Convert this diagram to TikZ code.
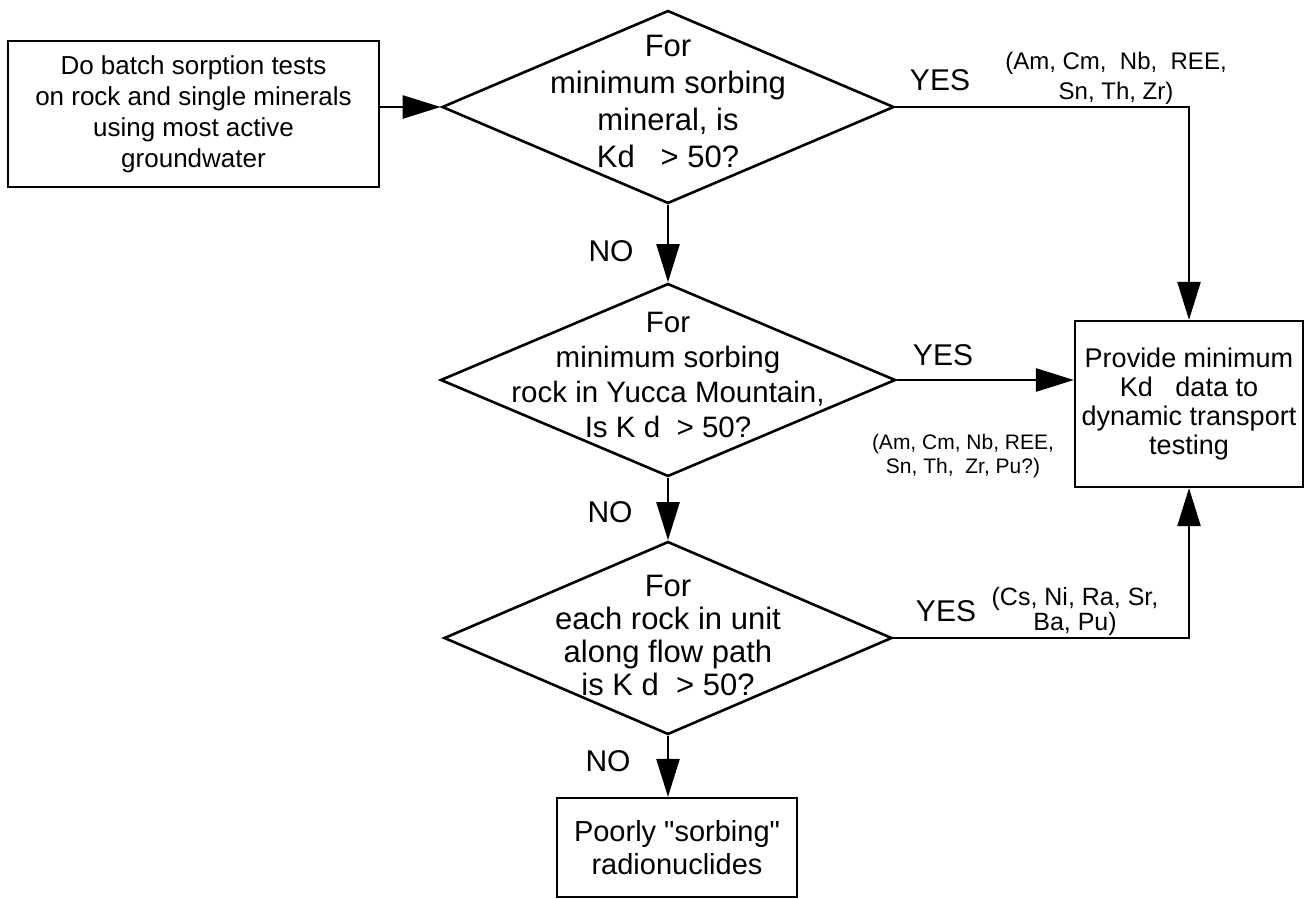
\documentclass[tikz,border=0pt]{standalone}
\usepackage{fontspec}
\setmainfont{Liberation Sans}[Ligatures=TeXOff]
\usepackage{tikz}
\usetikzlibrary{positioning,arrows.meta,shapes.geometric}

\begin{document}
\begin{tikzpicture}[
    x=1pt, y=1pt,
    box/.style={draw, line width=2.2pt, inner sep=0pt, align=center},
    decision/.style={draw, diamond, line width=2.6pt, inner sep=0pt, minimum width=#1, minimum height=193pt},
    qtext/.style={align=center, font=\fontsize{31}{#1}\selectfont},
    lbl/.style={font=\fontsize{30}{36}\selectfont},
    elems/.style={align=center, inner sep=0pt},
    arrow/.style={-{Triangle[length=38pt,width=23pt]}, line width=2.4pt},
  ]
  \useasboundingbox (0,0) rectangle (1306,-899);

  % Boxes
  \node[box, minimum width=371pt, minimum height=146pt, font=\fontsize{26}{31}\selectfont] (batch) at (193.5,-114)
    {Do batch sorption tests\\on rock and single minerals\\using most active\\groundwater};
  \node[box, minimum width=228pt, minimum height=166pt, font=\fontsize{27}{29}\selectfont] (prov) at (1189,-404)
    {Provide minimum\\Kd\ \ \ data to\\dynamic transport\\testing};
  \node[box, minimum width=240pt, minimum height=99pt, font=\fontsize{29}{33}\selectfont] (poor) at (677,-847.5)
    {Poorly "sorbing"\\radionuclides};

  % Decisions
  \node[decision=452pt] (d1) at (668,-107) {};
  \node[decision=455pt] (d2) at (668,-380) {};
  \node[decision=448pt] (d3) at (668,-638) {};
  \node[qtext=37] (d1txt) at ([yshift=6]d1.center) {For\\minimum sorbing\\mineral, is\\Kd\ \ \ > 50?};
  \node[qtext=35, font=\fontsize{29.5}{35}\selectfont] (d2txt) at ([yshift=5]d2.center) {For\\minimum sorbing\\rock in Yucca Mountain,\\Is K d\ \ > 50?};
  \node[qtext=33] (d3txt) at ([yshift=3]d3.center) {For\\each rock in unit\\along flow path\\is K d\ \ > 50?};

  % Arrows
  \draw[arrow] (batch.east |- d1.west) -- (d1.west);
  \draw[arrow] (d1.south) -- (d2.north);
  \draw[arrow] (d2.south) -- (d3.north);
  \draw[arrow] (d3.south) -- (d3.south |- poor.north);
  \draw[arrow] (d1.east) -| (prov.north);
  \draw[arrow] (d2.east) -- (d2.east -| prov.west);
  \draw[arrow] (d3.east) -| (prov.south);

  % Labels
  \node[lbl] (yes1) at (940,-80) {YES};
  \node[lbl] (yes2) at (943,-355) {YES};
  \node[lbl] (yes3) at (946,-611) {YES};
  \node[lbl] (no1) at (611,-251) {NO};
  \node[lbl] (no2) at (610,-512) {NO};
  \node[lbl] (no3) at (608,-761) {NO};
  \node[elems, font=\fontsize{24}{30}\selectfont] (el1) at (1116,-78) {(Am, Cm,\ \ Nb,\ \ REE,\\Sn, Th, Zr)};
  \node[elems, font=\fontsize{21}{24}\selectfont] (el2) at (963,-456) {(Am, Cm, Nb, REE,\\Sn, Th,\ \ Zr, Pu?)};
  \node[elems, font=\fontsize{25}{25}\selectfont] (el3) at (1075,-612) {(Cs, Ni, Ra, Sr,\\Ba, Pu)};
\end{tikzpicture}
\end{document}
